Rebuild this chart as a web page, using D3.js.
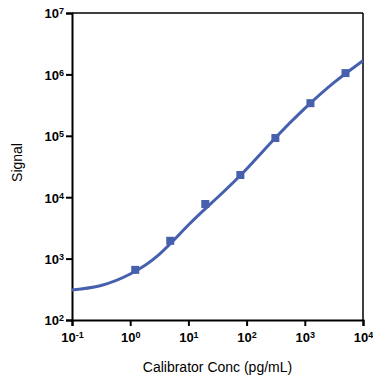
<!DOCTYPE html>
<html>
<head>
<meta charset="utf-8">
<script src="https://cdn.jsdelivr.net/npm/d3@7"></script>
<style>
  body { margin: 0; background: #fff; }
  svg { font-family: "Liberation Sans", Arial, sans-serif; }
</style>
</head>
<body>
<div class="chart"></div>
<script>
// calibrator standards (pg/mL) and measured signal
var calConc = [1.22, 4.88, 19.5, 78.1, 312, 1250, 5000];
var calSignal = [655, 1950, 7750, 23000, 92000, 340000, 1050000];

// fitted curve, half-decade steps
var fitConc = [0.1, 0.316, 1, 3.16, 10, 31.6, 100, 316, 1000, 3162, 10000];
var fitSignal = [308, 365, 561, 1175, 3520, 9890, 28800, 93700, 279000, 733000, 1670000];

var xTicks = [0.1, 1, 10, 100, 1000, 10000];
var yTicks = [1e2, 1e3, 1e4, 1e5, 1e6, 1e7];

var margin = { top: 13, right: 10, bottom: 55, left: 72 }
var width = 373, height = 375;
var w = width - margin.left - margin.right;   // 291
var h = height - margin.top - margin.bottom;  // 307
var blue = "#4660ae";

var svg = d3.select(".chart")
  .append("svg")
    .attr("width", width)
    .attr("height", height)
  .append("g")
    .attr("transform", "translate(" + margin.left + "," + margin.top + ")");

var x = d3.scaleLog().domain([0.1, 10000]).range([0, w]);
var y = d3.scaleLog().domain([100, 1e7]).range([h, 0]);

// frame: top and right thinner
svg.append("line").attr("x1", 0).attr("x2", w).attr("y1", 0).attr("y2", 0)
  .style("stroke", "#000").style("stroke-width", 1.5);
svg.append("line").attr("x1", w).attr("x2", w).attr("y1", 0).attr("y2", h)
  .style("stroke", "#000").style("stroke-width", 1.5);

function expLabel(sel) {
  sel.each(function(d) {
    var t = d3.select(this).text("");
    t.append("tspan").text("10");
    t.append("tspan").attr("dy", "-0.45em").style("font-size", "9px")
      .text(String(Math.round(Math.log10(d))).replace("-", "\u2011"));
  });
}

var xAxis = svg.append("g")
  .attr("transform", "translate(0," + h + ")")
  .call(d3.axisBottom(x).tickValues(xTicks).tickSize(6).tickPadding(7));
var yAxis = svg.append("g")
  .call(d3.axisLeft(y).tickValues(yTicks).tickSize(6).tickPadding(2));

[xAxis, yAxis].forEach(function(a) {
  a.select(".domain").style("stroke-width", 2).style("stroke", "#000");
  a.selectAll(".tick line").style("stroke-width", 2).style("stroke", "#000");
  a.selectAll(".tick text")
    .style("font-family", "'Liberation Sans', Arial, sans-serif")
    .style("font-size", "13px").style("font-weight", "bold").style("fill", "#000")
    .call(expLabel);
});
yAxis.selectAll(".tick text").attr("dy", "0.38em");

// fitted curve
var line = d3.line()
  .x(function(d, i) { return x(fitConc[i]); })
  .y(function(d) { return y(d); })
  .curve(d3.curveNatural);
svg.append("path")
  .attr("d", line(fitSignal))
  .style("fill", "none")
  .style("stroke", blue)
  .style("stroke-width", 3);

// standards
svg.selectAll("rect.pt")
  .data(calConc).enter()
  .append("rect")
    .attr("class", "pt")
    .attr("x", function(d) { return x(d) - 4; })
    .attr("y", function(d, i) { return y(calSignal[i]) - 4; })
    .attr("width", 8).attr("height", 8)
    .style("fill", blue);

// axis titles
svg.append("text")
  .attr("x", w / 2).attr("y", h + 52)
  .style("text-anchor", "middle").style("font-size", "14px")
  .text("Calibrator Conc (pg/mL)");
svg.append("text")
  .attr("transform", "translate(" + (-50) + "," + (h / 2 - 4) + ") rotate(-90)")
  .style("text-anchor", "middle").style("font-size", "14px")
  .text("Signal");
</script>
</body>
</html>
